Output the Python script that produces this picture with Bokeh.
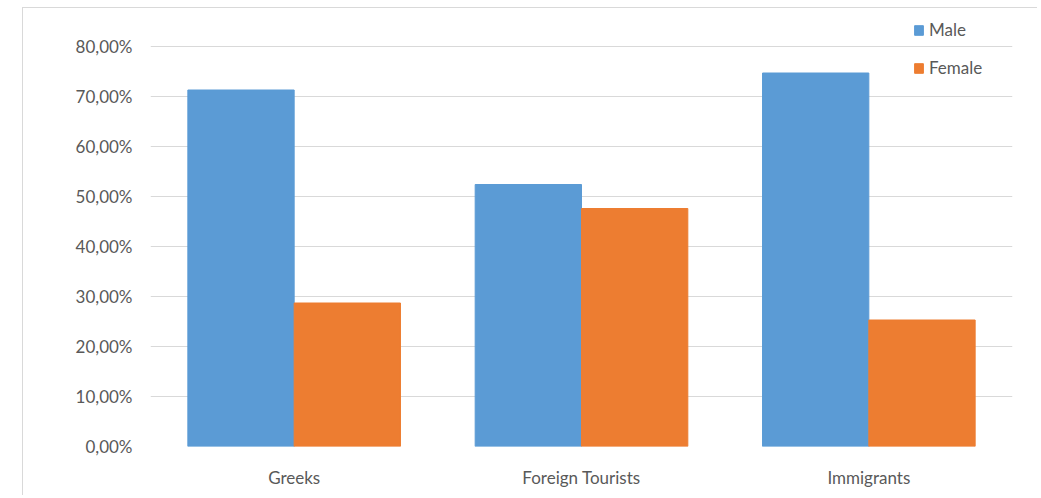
from bokeh.plotting import figure
from bokeh.models import (ColumnDataSource, FactorRange, Range1d, FixedTicker,
                          CustomJSTickFormatter, Legend, LegendItem)
from bokeh.transform import dodge
from bokeh.embed import file_html
from bokeh.resources import INLINE

categories = ["Greeks", "Foreign Tourists", "Immigrants"]
male = [71.3, 52.4, 74.7]
female = [28.7, 47.6, 25.3]
series = ["Male", "Female"]
colors = ["#5B9BD5", "#ED7D31"]
yticks = [0, 10, 20, 30, 40, 50, 60, 70, 80]

src = ColumnDataSource(dict(cat=categories, Male=male, Female=female))

FONT = "Lato"
TXT = "#595959"

p = figure(width=1015, height=488, output_backend="svg", toolbar_location=None,
           x_range=FactorRange(*categories, range_padding=0),
           y_range=Range1d(0, 87),
           min_border_left=127, min_border_right=26, min_border_top=3, min_border_bottom=50)
p.margin = (7, 0, 0, 22)
p.styles = {"border-left": "1px solid #d9d9d9", "border-top": "1px solid #d9d9d9"}
p.outline_line_color = None
p.background_fill_color = "white"
p.border_fill_color = "white"

r_m = p.vbar(x=dodge("cat", -0.185, range=p.x_range), top="Male", width=0.37, source=src,
             fill_color=colors[0], line_color=colors[0])
r_f = p.vbar(x=dodge("cat", 0.185, range=p.x_range), top="Female", width=0.37, source=src,
             fill_color=colors[1], line_color=colors[1])

p.yaxis.ticker = FixedTicker(ticks=yticks)
p.yaxis.formatter = CustomJSTickFormatter(code="return tick.toFixed(2).replace('.', ',') + '%';")
for ax in (p.xaxis, p.yaxis):
    ax.axis_line_color = None
    ax.major_tick_line_color = None
    ax.minor_tick_line_color = None
    ax.major_tick_out = 0
    ax.major_tick_in = 0
    ax.major_label_text_font = FONT
    ax.major_label_text_font_size = "17px"
    ax.major_label_text_color = TXT
p.yaxis.major_label_standoff = 18
p.xaxis.major_label_standoff = 20

p.xgrid.grid_line_color = None
p.ygrid.grid_line_color = "#d9d9d9"
p.ygrid.grid_line_width = 1
p.ygrid.ticker = FixedTicker(ticks=yticks)

legend = Legend(items=[LegendItem(label=series[0], renderers=[r_m]),
                       LegendItem(label=series[1], renderers=[r_f])],
                location=(763, 368), padding=0, margin=0, spacing=17,
                glyph_width=11, glyph_height=12, label_height=20, label_standoff=5,
                label_text_font=FONT, label_text_font_size="17px", label_text_color=TXT,
                border_line_color=None, background_fill_alpha=0)
p.add_layout(legend, "center")

open("out.html", "w").write(file_html(p, INLINE))
